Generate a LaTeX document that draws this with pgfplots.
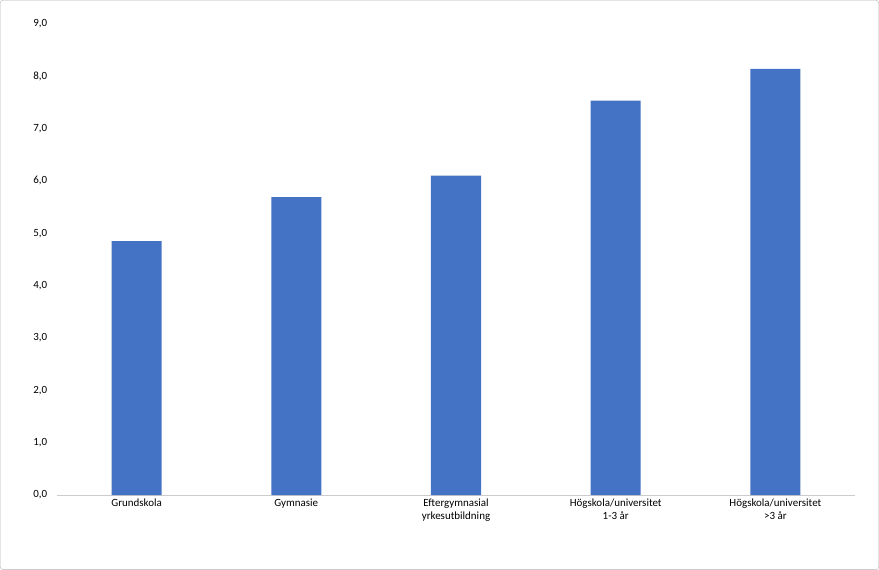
\documentclass[border=0pt]{standalone}
\usepackage{pgfplots}
\pgfplotsset{compat=1.18}
\usepackage{fontspec}
\setmainfont{Carlito}
\definecolor{bar}{HTML}{4472C4}
\begin{document}
\begin{tikzpicture}
\draw[rounded corners=3bp, draw=gray!60] (-56.5bp,-74.5bp) rectangle (821.5bp,494.5bp);
\begin{axis}[
  at={(0,0)}, anchor=south west,
  scale only axis, width=798bp, height=471bp,
  xmin=-0.5, xmax=4.5, ymin=0, ymax=9,
  ytick={0,1,...,9},
  ymajorgrids, grid style={draw=gray!30},
  axis x line*=bottom, axis y line=none,
  x axis line style={draw=gray!40, -},
  xtick=data,
  xticklabels={Grundskola,Gymnasie,{Eftergymnasial\\yrkesutbildning},{Högskola/universitet\\1-3 år},{Högskola/universitet\\>3 år}},
  xticklabel style={align=left, font=\fontsize{11}{13}\selectfont, anchor=north, text depth=0pt},
  x tick label style={align=center},
  major tick length=0pt,
  yticklabel style={font=\fontsize{11}{13}\selectfont},
  /pgf/number format/.cd, use comma, fixed, fixed zerofill, precision=1, assume math mode=true,
]
\pgfplotsset{every axis y label/.style={}}
\addplot[ybar, bar width=50bp, fill=bar, draw=none] coordinates {(0,4.85) (1,5.69) (2,6.10) (3,7.53) (4,8.14)};
\end{axis}
\foreach \v [count=\i from 0] in {0,1,...,9} {
  \node[anchor=east, font=\fontsize{11}{13}\selectfont] at (-6bp, {\i*471/9*1bp}) {\v,0};
}
\end{tikzpicture}
\end{document}
